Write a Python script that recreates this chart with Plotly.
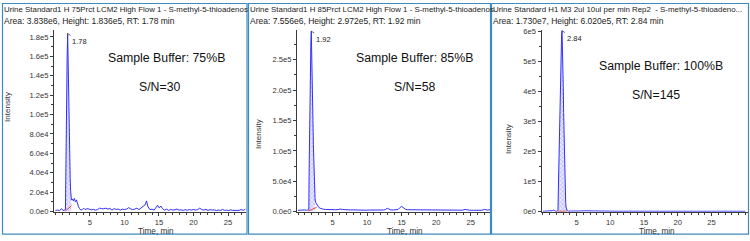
import plotly.graph_objects as go

FONT = "Arial, Liberation Sans, sans-serif"

# ---------------- data ----------------
# Panel 1 (75%B)
p1_pre_t = [0.0, 0.3, 0.6, 0.9, 1.1, 1.4]
p1_pre_i = [1200, 1500, 1000, 3000, 1200, 1500]
p1_peak_t = [1.46, 1.52, 1.58, 1.64, 1.70, 1.78, 1.84, 1.90, 1.96, 2.02, 2.08, 2.14, 2.20, 2.26, 2.32]
p1_peak_i = [2500, 60000, 116000, 130000, 157000, 183600, 150000, 120000, 95000, 70000, 50000, 35000, 22000, 15000, 12000]
p1_post_t = [2.45, 2.6, 2.75, 2.9, 3.05, 3.2, 3.35, 3.5, 3.7, 3.9, 4.1, 4.3, 4.6, 4.9, 5.2, 5.5, 5.8, 6.1, 6.4, 6.7,
             7.0, 7.3, 7.6, 7.9, 8.2, 8.5, 8.8, 9.1, 9.4, 9.7, 10.0, 10.3, 10.6, 10.9, 11.2, 11.5, 11.8, 12.1, 12.4,
             12.7, 13.0, 13.2, 13.4, 13.7, 14.0, 14.3, 14.6, 14.8, 15.0, 15.3, 15.5, 15.8, 16.1, 16.4, 16.7, 17.0,
             17.3, 17.6, 17.9, 18.2, 18.5, 18.8, 19.1, 19.4, 19.7, 20.0, 20.3, 20.6, 20.9, 21.2, 21.5, 21.8, 22.1,
             22.4, 22.7, 23.0, 23.3, 23.6, 23.9, 24.2, 24.5, 24.8, 25.1, 25.4, 25.7, 26.0, 26.3, 26.6, 26.9, 27.2, 27.5]
p1_post_i = [13000, 11000, 13500, 10000, 12000, 8000, 5000, 3000, 1500, 2000, 3500, 2000, 3000, 2500, 1800, 2200,
             1500, 2000, 3500, 3000, 2800, 3500, 2500, 3200, 1500, 3000, 2200, 2600, 1500, 2500, 2000, 2500, 4000,
             2800, 2000, 2500, 3500, 2000, 4000, 5500, 7000, 11000, 5000, 2000, 2500, 1500, 4500, 6500, 4000, 5500,
             3000, 1500, 2500, 1200, 2200, 1500, 1800, 2600, 1500, 1800, 1200, 2000, 1300, 2000, 1500, 2200, 1500,
             2000, 3500, 2000, 1500, 2200, 1200, 2000, 1500, 1800, 1000, 1600, 1200, 2200, 1200, 1500, 1000, 1800,
             1200, 1000, 1500, 1200, 2000, 1200, 2500]
p1_base_t = [1.45, 2.32]
p1_base_i = [500, 6000]

# Panel 2 (85%B)
p2_pre_t = [0.0, 0.3, 0.6, 0.9, 1.2, 1.5]
p2_pre_i = [2000, 2500, 2000, 2800, 2200, 2500]
p2_peak_t = [1.56, 1.62, 1.68, 1.74, 1.80, 1.86, 1.92, 1.98, 2.04, 2.10, 2.16, 2.22, 2.28, 2.34, 2.40, 2.46]
p2_peak_i = [3000, 80000, 160000, 200000, 245000, 280000, 297200, 270000, 230000, 190000, 150000, 110000, 80000,
             55000, 35000, 22000]
p2_post_t = [2.55, 2.7, 2.85, 3.0, 3.2, 3.4, 3.7, 4.0, 4.3, 4.6, 5.0, 5.4, 5.8, 6.1, 6.4, 6.8, 7.2, 7.6, 8.0, 8.4,
             8.8, 9.2, 9.6, 10.0, 10.4, 10.8, 11.2, 11.6, 12.0, 12.4, 12.7, 12.9, 13.1, 13.4, 13.8, 14.2, 14.5, 14.8,
             15.0, 15.2, 15.5, 15.8, 16.2, 16.6, 17.0, 17.4, 17.8, 18.2, 18.6, 19.0, 19.4, 19.8, 20.2, 20.6, 21.0,
             21.4, 21.8, 22.2, 22.6, 23.0, 23.4, 23.8, 24.2, 24.6, 25.0, 25.4, 25.8, 26.2, 26.6, 27.0, 27.4, 27.8]
p2_post_i = [15000, 12000, 9000, 7000, 5500, 4500, 3800, 3500, 3200, 3000, 2800, 3000, 3200, 4200, 3500, 3000, 2800,
             2600, 2800, 2500, 2700, 2400, 2600, 2300, 2500, 2300, 2600, 2400, 2800, 2600, 3500, 5500, 4500, 2800,
             2600, 2800, 3500, 7000, 8500, 7000, 4000, 3000, 3000, 2800, 3200, 2600, 2800, 2400, 2600, 2400, 2500,
             2300, 2500, 2600, 2300, 2400, 2200, 2400, 2200, 2300, 2100, 2300, 3500, 2200, 2000, 2200, 2100, 2300,
             2100, 3500, 2500, 3000]
p2_base_t = [1.5, 2.7]
p2_base_i = [800, 7000]

# Panel 3 (100%B)
p3_pre_t = [0.0, 0.4, 0.8, 1.2, 1.4, 1.55, 1.7, 1.9, 2.1]
p3_pre_i = [800, 900, 1000, 1200, 3000, 5000, 2500, 1200, 1000]
p3_peak_t = [2.24, 2.30, 2.36, 2.42, 2.48, 2.54, 2.60, 2.66, 2.72, 2.78, 2.84, 2.90, 2.96, 3.02, 3.08, 3.14, 3.20,
             3.26, 3.32, 3.38, 3.44, 3.50]
p3_peak_i = [3000, 75000, 150000, 250000, 330000, 400000, 460000, 500000, 560000, 590000, 602000, 560000, 490000,
             420000, 330000, 250000, 170000, 100000, 60000, 30000, 15000, 6000]
p3_post_t = [3.6, 3.8, 4.2, 4.6, 5.0, 5.4, 5.8, 6.2, 6.6, 7.0, 7.4, 7.8, 8.2, 8.6, 9.0, 9.4, 9.8, 10.2, 10.6, 11.0,
             12.0, 13.0, 14.0, 15.0, 16.0, 17.0, 17.6, 18.0, 19.0, 20.0, 21.0, 22.0, 23.0, 24.0, 25.0, 26.0, 27.0,
             28.0, 29.0, 30.0]
p3_post_i = [3000, 1500, 1200, 1500, 1800, 2500, 2000, 2500, 2200, 2500, 2800, 2200, 1500, 2000, 1300, 1200, 1000,
             1200, 900, 1000, 1100, 900, 1000, 1200, 900, 1000, 1800, 1000, 900, 1000, 1100, 900, 1000, 900, 1000,
             1100, 900, 1000, 900, 1000]
p3_base_t = [2.24, 3.55]
p3_base_i = [1000, 1500]

titles1 = ["Urine Standard1 H 75Prct LCM2 High Flow 1 - S-methyl-5-thioadenos",
           "Urine Standard1 H 85Prct LCM2 High Flow 1 - S-methyl-5-thioadenos",
           "Urine Standard H1 M3 2ul 10ul per min Rep2  - S-methyl-5-thioadeno..."]
titles2 = ["Area: 3.838e6, Height: 1.836e5, RT: 1.78 min",
           "Area: 7.556e6, Height: 2.972e5, RT: 1.92 min",
           "Area: 1.730e7, Height: 6.020e5, RT: 2.84 min"]
buffers = ["Sample Buffer: 75%B", "Sample Buffer: 85%B", "Sample Buffer: 100%B"]
sn_labels = ["S/N=30", "S/N=58", "S/N=145"]
rt_values = [1.78, 1.92, 2.84]
rt_heights = [183600, 297200, 602000]
rt_labels = ["1.78", "1.92", "2.84"]

y_tickvals = [
    [0, 20000, 40000, 60000, 80000, 100000, 120000, 140000, 160000, 180000],
    [0, 50000, 100000, 150000, 200000, 250000],
    [0, 100000, 200000, 300000, 400000, 500000, 600000],
]
y_ticktext = [
    ["0.0e0", "2.0e4", "4.0e4", "6.0e4", "8.0e4", "1.0e5", "1.2e5", "1.4e5", "1.6e5", "1.8e5"],
    ["0.0e0", "5.0e4", "1.0e5", "1.5e5", "2.0e5", "2.5e5"],
    ["0e0", "1e5", "2e5", "3e5", "4e5", "5e5", "6e5"],
]
x_tickvals = [5, 10, 15, 20, 25]

panels = [
    (p1_pre_t, p1_pre_i, p1_peak_t, p1_peak_i, p1_post_t, p1_post_i, p1_base_t, p1_base_i),
    (p2_pre_t, p2_pre_i, p2_peak_t, p2_peak_i, p2_post_t, p2_post_i, p2_base_t, p2_base_i),
    (p3_pre_t, p3_pre_i, p3_peak_t, p3_peak_i, p3_post_t, p3_post_i, p3_base_t, p3_base_i),
]

# ---------------- layout geometry (pixels) ----------------
W, H = 750, 241
x_dom_px = [(54, 246), (297, 490), (541.5, 748)]
x_ranges = [(-0.2, 27.6), (-0.15, 27.8), (-0.2, 30.4)]
y_ranges = [(-200, 187000), (-300, 298700), (-600, 603500)]
y_bottom_px, y_top_px = 215, 28
frames_px = [(2.5, 247), (248.5, 490.5), (491.5, 748.5)]
buf_pos = [(166, 57, 160, 87), (414, 57, 415, 87), (661, 65, 656, 95)]
intensity_pos = [(8, 107), (258, 135), (509, 140)]
time_pos = [156, 405, 657]

LINE_BLUE = "#2f2fff"
TICK_SIZE = 7.6
fig = go.Figure()


def txt(x_px, y_px, text, size, color="#222222", angle=0, xanchor="center"):
    fig.add_annotation(x=x_px / W, y=1 - y_px / H, xref="paper", yref="paper", text=text,
                       showarrow=False, xanchor=xanchor, yanchor="middle", textangle=angle,
                       borderpad=0, font=dict(family=FONT, size=size, color=color))


for k, (pre_t, pre_i, pk_t, pk_i, post_t, post_i, bt, bi) in enumerate(panels):
    xa = "x" if k == 0 else f"x{k+1}"
    ya = "y" if k == 0 else f"y{k+1}"
    # hatched peak area
    fig.add_trace(go.Scatter(
        x=pk_t, y=pk_i, xaxis=xa, yaxis=ya, mode="lines", fill="tozeroy",
        line=dict(width=0, color=LINE_BLUE),
        fillpattern=dict(shape="x", fgcolor="#5a5aff", bgcolor="#eaeaff", size=3, solidity=0.3),
        hoverinfo="skip", showlegend=False))
    # chromatogram trace
    fig.add_trace(go.Scatter(
        x=pre_t + pk_t + post_t, y=pre_i + pk_i + post_i, xaxis=xa, yaxis=ya, mode="lines",
        line=dict(width=1, color=LINE_BLUE), showlegend=False))
    # integration baseline
    fig.add_trace(go.Scatter(
        x=bt, y=bi, xaxis=xa, yaxis=ya, mode="lines",
        line=dict(width=1, color="#e8413c"), showlegend=False))

    xd = [x_dom_px[k][0] / W, x_dom_px[k][1] / W]
    yd = [(H - y_bottom_px) / H, (H - y_top_px) / H]
    axis_common = dict(showline=True, linecolor="#3a3a3a", linewidth=1, showgrid=False, zeroline=False,
                       ticks="outside", ticklen=3, tickcolor="#3a3a3a",
                       tickfont=dict(family=FONT, size=TICK_SIZE, color="#333333"))
    fig.layout[("xaxis" if k == 0 else f"xaxis{k+1}")] = dict(
        domain=xd, range=list(x_ranges[k]), anchor=ya, tickmode="array", tickvals=x_tickvals,
        minor=dict(tickmode="linear", tick0=0, dtick=1, ticklen=2, ticks="outside", tickcolor="#3a3a3a"),
        **axis_common)
    fig.layout[("yaxis" if k == 0 else f"yaxis{k+1}")] = dict(
        domain=yd, range=list(y_ranges[k]), anchor=xa, tickmode="array",
        tickvals=y_tickvals[k], ticktext=y_ticktext[k],
        minor=dict(tickmode="linear", tick0=0, dtick=(y_tickvals[k][1] - y_tickvals[k][0]) / 2,
                   ticklen=2, ticks="outside", tickcolor="#3a3a3a"),
        **axis_common)

    # peak RT label
    fig.add_annotation(x=rt_values[k], y=rt_heights[k], xref=xa, yref=ya, text=rt_labels[k],
                       showarrow=True, arrowhead=0, arrowwidth=0.7, arrowcolor="#333333",
                       ax=12, ay=8, font=dict(family=FONT, size=7.5, color="#222222"))

    # headers
    fx0, fx1 = frames_px[k]
    txt(fx0 + 0.5, 7, titles1[k], 7.9, xanchor="left")
    txt(fx0 + 0.5, 18.5, titles2[k], 8.5, xanchor="left")
    # Sample buffer text
    bx, by, sx, sy = buf_pos[k]
    txt(bx, by, buffers[k], 12.3, color="#111111")
    txt(sx, sy, sn_labels[k], 12.3, color="#111111")
    # axis titles
    ix, iy = intensity_pos[k]
    txt(ix, iy, "Intensity", 8, color="#333333", angle=-90)
    txt(time_pos[k], 235.5, "Time, min", 8.2, color="#333333")
    # panel frame
    fig.add_shape(type="rect", xref="paper", yref="paper",
                  x0=fx0 / W, x1=fx1 / W, y0=1 - 238 / H, y1=1 - 0.5 / H,
                  line=dict(color="#3c8cc4", width=1.2), fillcolor="rgba(0,0,0,0)")

fig.update_layout(width=W, height=H, margin=dict(l=0, r=0, t=0, b=0),
                  paper_bgcolor="white", plot_bgcolor="white", showlegend=False)

fig.write_html("out.html")
